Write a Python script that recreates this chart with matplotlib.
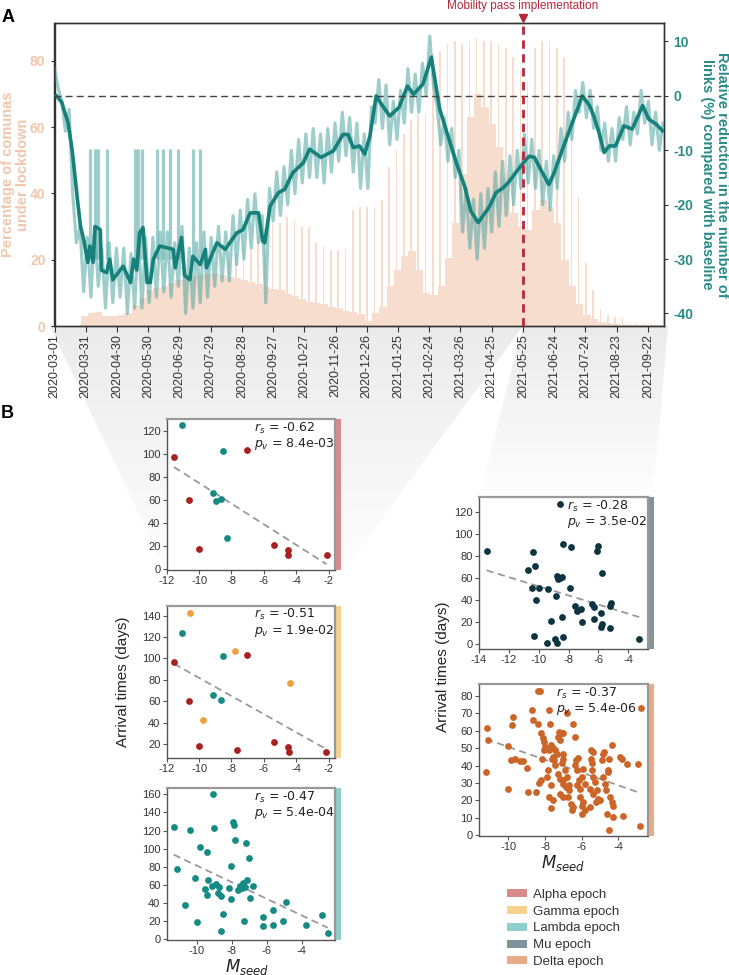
import numpy as np
import datetime as dt
import matplotlib
matplotlib.use("Agg")
import matplotlib.pyplot as plt
import matplotlib.dates as mdates
from matplotlib.patches import Rectangle, Polygon, Patch

plt.rcParams['font.family'] = ['Liberation Sans', 'DejaVu Sans']
plt.rcParams['axes.unicode_minus'] = False
plt.rcParams['mathtext.fontset'] = 'dejavusans'

# ------------------------------------------------------------------ data
start_date = '2020-03-01'
tick_labels = ['2020-03-01', '2020-03-31', '2020-04-30', '2020-05-30', '2020-06-29',
               '2020-07-29', '2020-08-28', '2020-09-27', '2020-10-27', '2020-11-26',
               '2020-12-26', '2021-01-25', '2021-02-24', '2021-03-26', '2021-04-25',
               '2021-05-25', '2021-06-24', '2021-07-24', '2021-08-23', '2021-09-22']
mobility_pass_date = '2021-05-25'
mobility_pass_label = 'Mobility pass implementation'

# lockdown percentage: weekday level (weekly bins, days since start) and weekend level
lock_week_day = [25 + 7 * k for k in range(80)]
lock_week_val = [3, 3.9, 4.2, 3, 2.9, 3.3, 4, 6.2, 8.4, 10.8,
                 11.6, 12.2, 13, 13.8, 14.6, 15, 15.4, 15.6, 15.9, 15.5,
                 14.9, 14.5, 14, 13.3, 12.7, 11.8, 11.2, 10.8, 9.6, 9,
                 8.2, 7.3, 6.9, 6.5, 5.7, 5.3, 4.6, 4.1, 3.5, 1.4,
                 4, 5.8, 12, 17, 21, 22.5, 17, 10, 9.4, 12,
                 20.5, 31, 46, 63, 70, 66, 61, 54, 45, 34,
                 30, 29, 35, 38, 36, 31, 20, 12, 6.5, 3.3,
                 2, 1.2, 0.8, 0.5, 0.3, 0.3, 0.3, 0.3, 0.3, 0.3]
lock_weekend_day = [167 + 7 * k for k in range(60)]
lock_weekend_val = [20, 22, 24, 23, 27, 28, 31, 31, 33, 32,
                    30, 30, 25, 24, 23, 23, 23, 35, 36, 36,
                    36, 38, 48, 53, 58, 62, 64, 64, 82, 83,
                    85, 86, 85, 86, 87, 86, 86, 85, 84, 81,
                    77, 74, 84, 86, 86, 84, 81, 62, 39, 19,
                    11, 5, 3.3, 2.8, 2.6, 0.9, 0.6, 0.5, 0.4, 0.3]

# mobility: raw daily series sampled twice a week (days since start) and 7-day smooth
raw_day = np.arange(0, 585, 3.5)
raw_val = [5, 1.5, -1, -6.5, -2.5, -18, -27, -24, -36, -26,
           -37, -24, -35, -28, -39, -27, -38, -28, -37, -28,
           -40, -29, -39, -25, -39, -26, -38, -26, -37, -25,
           -36, -25, -37, -27, -35, -24, -40, -28, -39, -27,
           -38, -25, -37, -26, -35, -24, -34, -25, -34, -22,
           -31, -21, -30, -19, -28, -18, -27, -22, -38, -17,
           -23, -14, -22, -13, -20, -10, -18, -8, -16, -7,
           -15, -6, -15, -7, -16, -6, -14, -5, -12, -3,
           -11, -4, -14, -5, -17, -7, -17, -2, -5, 3,
           -6, 2, -9, -1, -8, 1, -5, 5, -3, 4,
           -3, 6, 0, 11, 2, -2, -9, -4, -12, -6,
           -15, -10, -25, -17, -28, -19, -30, -18, -28, -17,
           -25, -14, -24, -12, -22, -11, -20, -10, -17, -7,
           -16, -8, -17, -10, -20, -12, -21, -11, -17, -6,
           -12, -3, -8, 1, -3, 2.5, -4, 1, -6, -2,
           -10, -5, -12, -6, -12, -4, -8, -2, -9, -3,
           -7, 1, -5, -1, -9, -3, -10, -5]
burst_day = [34, 39, 42, 50, 77, 80, 84, 98, 104, 111, 119, 133, 140]
burst_low = -30
burst_top = -9.8
smooth_day = [2, 7, 9, 13, 17, 22, 25, 28, 32, 34, 37, 39, 44, 45, 50, 53, 56, 60, 66, 73,
              76, 79, 82, 85, 89, 92, 95, 101, 114, 116, 122, 125, 130, 133, 140, 145, 146,
              156, 164, 175, 181, 188, 196, 200, 202, 207, 215, 221, 229, 239, 245, 256,
              268, 277, 282, 287, 293, 298, 303, 309, 315, 322, 331, 339, 345, 354, 362,
              370, 379, 386, 394, 400, 407, 418, 424, 431, 437, 443, 453, 456, 461, 467,
              474, 475, 480, 488, 494, 501, 507, 514, 518, 523, 528, 533, 539, 547, 555,
              565, 571, 578, 584]
smooth_val = [0, -1.2, -2.5, -4.9, -10, -19, -24, -26.4, -30.6, -27.6, -30.6, -24, -24.6,
              -32, -32.5, -30, -33.8, -32.8, -31.3, -34.3, -30, -32, -25.2, -24.2, -34.3,
              -34.3, -30, -27.6, -28.2, -31.6, -26, -33, -33.8, -29.5, -31, -28.2, -31.6,
              -27, -28.2, -25.2, -24.6, -21.5, -21.5, -26.7, -27, -20.3, -17.8, -17.2,
              -14.1, -12.3, -9.8, -11.3, -10.1, -7.1, -7.1, -9.5, -9.2, -10.7, -7.4, 0,
              -1.8, -3.7, -2.1, 1.8, 0.3, 2.2, 7.1, -2.4, -8, -12.3, -16.6, -21.2, -23.3,
              -20.3, -17.8, -16.9, -15.7, -14.1, -11.7, -11.1, -11.3, -13.5, -16, -16.3,
              -14.1, -9.8, -6.7, -3.1, 0, -1.8, -3.7, -6.7, -10.4, -9.2, -9.2, -5.5, -6.1,
              -1.8, -4.3, -5.2, -6.4]

# scatter panels (M_seed, arrival time in days)
alpha_red_x = [-11.55, -7.01, -10.65, -10.0, -5.37, -4.51, -4.48, -2.12]
alpha_red_y = [96.8, 103.4, 60.3, 17.5, 21.3, 16.6, 12.3, 12.3]
alpha_teal_x = [-11.04, -8.53, -9.14, -8.93, -8.67, -8.26]
alpha_teal_y = [124.4, 102.6, 66.1, 58.9, 60.9, 27.3]

gamma_red_x = [-7.02, -11.55, -10.65, -10.0, -7.63, -5.39, -4.53, -4.47, -2.14]
gamma_red_y = [103.5, 96.6, 60.2, 17.8, 14.7, 21.9, 16.9, 12.8, 12.8]
gamma_teal_x = [-11.04, -8.53, -9.15, -8.67]
gamma_teal_y = [124, 102.2, 65.8, 61.1]
gamma_orange_x = [-10.53, -7.76, -4.35, -9.78]
gamma_orange_y = [142.7, 107.2, 76.7, 42.4]

lambda_x = [-9.05, -11.30, -10.38, -9.01, -7.91, -7.87, -7.20, -7.81, -9.81, -9.39, -6.99,
            -11.14, -8.06, -10.06, -9.35, -9.53, -9.39, -9.14, -8.86, -8.71, -8.77, -8.63,
            -8.17, -8.06, -7.62, -7.53, -7.34, -7.11, -7.43, -7.24, -6.77, -6.95, -8.48,
            -10.65, -10.00, -8.63, -7.28, -6.19, -6.19, -5.66, -5.62, -5.05, -4.90, -3.77,
            -2.82, -2.51]
lambda_y = [160.2, 124.1, 121.1, 123.3, 129.6, 126.3, 106.4, 109.7, 102.3, 96.5, 89.5,
            77.7, 80.7, 67.7, 65.9, 55.2, 49.0, 58.9, 61.1, 57.5, 50.8, 47.8, 56.4, 44.2,
            54.5, 58.9, 61.9, 65.5, 56.4, 57.5, 58.9, 45.3, 27.6, 38.2, 19.4, 9.2, 20.2,
            24.3, 15.0, 32.0, 15.5, 20.2, 40.9, 15.5, 27.2, 6.6]

mu_x = [-8.55, -13.49, -10.37, -8.40, -7.84, -6.00, -6.11, -10.71, -10.22, -5.77, -8.77,
        -8.55, -8.73, -8.45, -10.44, -10.00, -9.35, -7.89, -10.18, -8.82, -7.56, -7.44,
        -7.17, -6.44, -6.33, -5.17, -5.22, -5.82, -6.33, -7.11, -8.44, -9.17, -5.77,
        -5.84, -5.22, -10.29, -8.40, -8.89, -8.77, -9.44, -3.27]
mu_y = [127.3, 84.8, 83.9, 90.9, 88.8, 89.4, 84.8, 67.9, 70.9, 64.8, 61.8, 60.3, 59.1,
        61.5, 50.9, 50.9, 50.0, 51.2, 40.0, 43.4, 34.5, 30.3, 31.5, 36.4, 33.4, 37.6,
        34.5, 28.5, 22.7, 20.3, 24.3, 21.2, 18.2, 15.2, 14.8, 7.3, 6.7, 4.3, 1.2, 1.2, 4.3]

delta_x = [-11.18, -11.09, -11.22, -10.0, -9.76, -9.78, -9.87, -9.64, -9.36, -9.18, -8.96,
           -10.0, -8.91, -8.69, -8.67, -8.36, -8.24, -8.49, -8.40, -8.27, -7.76, -7.73,
           -7.22, -7.09, -8.09, -8.05, -7.98, -8.05, -7.91, -7.76, -7.69, -7.58, -7.44,
           -7.36, -7.55, -7.51, -7.64, -7.44, -8.16, -8.24, -8.31, -7.82, -7.91, -7.69,
           -7.76, -7.58, -7.69, -7.27, -7.18, -7.04, -7.0, -7.0, -7.09, -7.27, -7.18,
           -7.0, -7.04, -6.89, -6.82, -6.85, -7.18, -7.0, -6.71, -6.67, -6.73, -6.6,
           -6.49, -6.55, -6.82, -6.49, -6.36, -6.31, -6.18, -6.36, -6.27, -6.13, -6.24,
           -6.09, -6.0, -5.91, -5.82, -6.09, -5.95, -6.0, -5.82, -6.0, -5.51, -5.51,
           -5.45, -5.36, -5.45, -5.36, -5.27, -5.55, -5.36, -5.18, -5.09, -5.22, -5.55,
           -5.0, -4.91, -4.85, -4.78, -4.85, -4.73, -4.67, -4.55, -4.49, -4.45, -4.36,
           -4.31, -3.91, -3.82, -4.55, -4.36, -4.64, -4.49, -4.27, -3.76, -2.78, -2.82,
           -3.51, -2.91]
delta_y = [61.9, 54.9, 36.0, 51.2, 68.1, 63.1, 43.1, 43.5, 42.7, 42.7, 38.8, 26.2, 25.0,
           71.9, 66.2, 64.2, 58.5, 25.0, 83.1, 83.1, 72.3, 64.2, 59.2, 58.5, 55.6, 53.7,
           50.8, 48.8, 50.4, 49.2, 51.7, 50.4, 48.8, 46.9, 45.0, 43.1, 44.0, 40.2, 44.0,
           31.5, 30.0, 37.3, 33.5, 28.7, 21.9, 20.0, 15.8, 56.5, 54.6, 58.5, 46.9, 44.0,
           41.2, 35.4, 32.5, 31.5, 29.6, 37.3, 33.5, 27.7, 23.8, 21.9, 28.7, 25.8, 21.9,
           18.1, 16.2, 14.2, 70.4, 64.2, 56.5, 43.1, 44.6, 40.2, 37.3, 31.5, 28.7, 26.7,
           33.5, 38.3, 29.6, 21.9, 19.0, 16.5, 14.2, 11.9, 48.8, 43.5, 41.2, 47.9, 37.3,
           33.5, 30.6, 26.7, 23.8, 25.8, 21.0, 19.0, 16.2, 20.0, 43.1, 46.9, 47.9, 33.5,
           29.6, 25.8, 37.3, 44.0, 21.9, 19.0, 16.5, 45.0, 44.0, 36.5, 51.7, 12.3, 2.7,
           10.4, 11.0, 72.9, 5.4, 40.8, 40.8]

stats = {'Alpha': ('-0.62', '8.4e-03'), 'Gamma': ('-0.51', '1.9e-02'),
         'Lambda': ('-0.47', '5.4e-04'), 'Mu': ('-0.28', '3.5e-02'),
         'Delta': ('-0.37', '5.4e-06')}
epoch_labels = ['Alpha epoch', 'Gamma epoch', 'Lambda epoch', 'Mu epoch', 'Delta epoch']
epoch_colors = ['#d98b8b', '#f5d28e', '#8dcfca', '#7f959c', '#e8ab87']

# ------------------------------------------------------------------ styles
BAR = '#f6ddcd'
PEACH = '#f0c6ad'
TEAL_DARK = '#16807b'
TEAL_RAW = '#4fa6a2'
TEAL_TXT = '#2a8c87'
RED_LINE = '#b5283b'
C_RED = '#a8201f'
C_TEAL = '#168a85'
C_ORANGE = '#f0a03c'
C_MU = '#0d3440'
C_DELTA = '#cb6528'

W, H = 729, 975
fig = plt.figure(figsize=(W / 100, H / 100), dpi=100)


def add_ax(l, t, r, b, **kw):
    return fig.add_axes([l / W, 1 - b / H, (r - l) / W, (b - t) / H], **kw)


# ------------------------------------------------------------------ background funnels
bg = fig.add_axes([0, 0, 1, 1], zorder=-10)
bg.axis('off')


def funnel(pts, y0, y1):
    rgba = np.zeros((256, 1, 4))
    rgba[..., :3] = 0.925
    rgba[..., 3] = np.linspace(1.0, 0.05, 256)[:, None]
    im = bg.imshow(rgba, extent=[0, W, y1, y0], aspect='auto', origin='upper',
                   interpolation='bilinear')
    poly = Polygon(pts, closed=True, transform=bg.transData, fc='none', ec='none')
    bg.add_patch(poly)
    im.set_clip_path(poly)


funnel([(50, 326), (523, 326), (343, 572), (166, 572)], 326, 572)
funnel([(523, 326), (668, 326), (653, 497), (479, 497)], 326, 497)
bg.set_xlim(0, W)
bg.set_ylim(H, 0)

# ------------------------------------------------------------------ panel A
t0 = mdates.date2num(dt.datetime.strptime(start_date, '%Y-%m-%d'))
axL = add_ax(54.5, 23, 664, 326)
axL.bar(t0 + np.array(lock_week_day), lock_week_val, width=7, align='edge',
        color=BAR, linewidth=0, zorder=1)
axL.bar(t0 + np.array(lock_weekend_day) + 0.5, lock_weekend_val, width=1.6,
        align='center', color=BAR, linewidth=0, zorder=1)
axL.set_xlim(t0, t0 + 585.5)
axL.set_ylim(0, 91.4)
tick_pos = [mdates.date2num(dt.datetime.strptime(s, '%Y-%m-%d')) for s in tick_labels]
axL.set_xticks(tick_pos)
axL.set_xticklabels(tick_labels, rotation=90, fontsize=9, color='#333333')
axL.set_yticks([0, 20, 40, 60, 80])
axL.tick_params(axis='y', labelcolor=PEACH, labelsize=10, length=3, color='#333333')
axL.tick_params(axis='x', length=4, color='#333333', pad=2)
for lab in axL.get_yticklabels():
    lab.set_fontweight('bold')
axL.set_ylabel('Percentage of comunas\nunder lockdown', color=PEACH,
               fontweight='bold', fontsize=10.5, linespacing=1.1)
axL.yaxis.set_label_coords(-0.040, 0.5)

axR = axL.twinx()
axR.plot(t0 + raw_day, raw_val, color=TEAL_RAW, alpha=0.55, lw=2.3, zorder=2)
axR.vlines(t0 + np.array(burst_day), burst_low, burst_top, color=TEAL_RAW, alpha=0.55,
           lw=2.3, zorder=2)
axR.plot(t0 + np.array(smooth_day), smooth_val, color=TEAL_DARK, lw=2.6, zorder=3)
axR.axhline(0, color='#444444', lw=1.0, ls=(0, (5, 3)), zorder=4)
axR.set_ylim(-42.3, 13.4)
axR.set_yticks([-40, -30, -20, -10, 0, 10])
axR.tick_params(axis='y', labelcolor=TEAL_TXT, labelsize=10, length=3, color='#333333')
for lab in axR.get_yticklabels():
    lab.set_fontweight('bold')
axR.set_ylabel('Relative reduction in the number of\nlinks (%) compared with baseline',
               color=TEAL_TXT, fontweight='bold', fontsize=10.5, rotation=270,
               va='center', linespacing=1.1)
axR.yaxis.set_label_coords(1.083, 0.5)

mp = mdates.date2num(dt.datetime.strptime(mobility_pass_date, '%Y-%m-%d'))
axR.plot([mp, mp], [-42.3, 14.3], color=RED_LINE, lw=2, ls=(0, (3, 2)),
         clip_on=False, zorder=5)
axR.plot([mp], [14.4], marker='v', color=RED_LINE, markersize=6, clip_on=False, zorder=6)
axR.annotate(mobility_pass_label, xy=(mp, 1.0), xycoords=('data', 'axes fraction'),
             xytext=(0, 17), textcoords='offset pixels', ha='center', va='center',
             color=RED_LINE, fontsize=8.5)

for ax in (axL, axR):
    for s in ax.spines.values():
        s.set_color('#333333')
        s.set_linewidth(1.0)

fig.text(8 / W, 1 - 17 / H, 'A', fontsize=13, fontweight='bold', ha='center', va='center')
fig.text(7 / W, 1 - 414 / H, 'B', fontsize=13, fontweight='bold', ha='center', va='center')


# ------------------------------------------------------------------ panel B
def scatter_panel(box, groups, xlim, ylim, xticks, yticks, strip, key, tx):
    ax = add_ax(*box)
    allx, ally = [], []
    for xs, ys, c in groups:
        ax.scatter(xs, ys, s=24, color=c, linewidths=0, zorder=3)
        allx += list(xs)
        ally += list(ys)
    k, b0 = np.polyfit(allx, ally, 1)
    xx = np.array([min(allx), max(allx)])
    ax.plot(xx, k * xx + b0, ls=(0, (4, 2.5)), color='#999999', lw=1.3, zorder=2)
    ax.set_xlim(*xlim)
    ax.set_ylim(*ylim)
    ax.set_xticks(xticks)
    ax.set_yticks(yticks)
    ax.tick_params(labelsize=8, length=3, width=0.8, color='#555555',
                   labelcolor='#333333', pad=1.5)
    for side in ('left', 'bottom'):
        ax.spines[side].set_color('#555555')
        ax.spines[side].set_linewidth(1.0)
    for side in ('top', 'right'):
        ax.spines[side].set_color('#999999')
        ax.spines[side].set_linewidth(1.6)
    w = box[2] - box[0]
    ax.add_patch(Rectangle((1.0, 0), 6 / w, 1, transform=ax.transAxes, clip_on=False,
                           color=strip, lw=0))
    rs, pv = stats[key]
    ax.text(tx, 0.94, r'$r_s$ = ' + rs, transform=ax.transAxes, ha='left', va='center',
            fontsize=9, family='DejaVu Sans', color='#222222')
    ax.text(tx, 0.835, r'$p_v$ = ' + pv, transform=ax.transAxes, ha='left', va='center',
            fontsize=9, family='DejaVu Sans', color='#222222')
    return ax


ax_a = scatter_panel((166.7, 419, 335, 570),
                     [(alpha_red_x, alpha_red_y, C_RED), (alpha_teal_x, alpha_teal_y, C_TEAL)],
                     (-12.0, -1.6), (-0.5, 130), [-12, -10, -8, -6, -4, -2],
                     [0, 20, 40, 60, 80, 100, 120], epoch_colors[0], 'Alpha', 0.52)
ax_g = scatter_panel((166.7, 605.7, 335, 758),
                     [(gamma_red_x, gamma_red_y, C_RED), (gamma_teal_x, gamma_teal_y, C_TEAL),
                      (gamma_orange_x, gamma_orange_y, C_ORANGE)],
                     (-12.0, -1.6), (6.9, 149.3), [-12, -10, -8, -6, -4, -2],
                     [20, 40, 60, 80, 100, 120, 140], epoch_colors[1], 'Gamma', 0.52)
ax_l = scatter_panel((166.7, 788, 335, 940), [(lambda_x, lambda_y, C_TEAL)],
                     (-11.7, -2.1), (-0.8, 167), [-10, -8, -6, -4],
                     [0, 20, 40, 60, 80, 100, 120, 140, 160], epoch_colors[2], 'Lambda', 0.52)
ax_m = scatter_panel((479, 497, 647.7, 649), [(mu_x, mu_y, C_MU)],
                     (-13.97, -2.7), (-4.5, 134), [-14, -12, -10, -8, -6, -4],
                     [0, 20, 40, 60, 80, 100, 120], epoch_colors[3], 'Mu', 0.52)
ax_d = scatter_panel((479, 684, 647.7, 836), [(delta_x, delta_y, C_DELTA)],
                     (-11.6, -2.4), (-0.6, 87), [-10, -8, -6, -4],
                     [0, 10, 20, 30, 40, 50, 60, 70, 80], epoch_colors[4], 'Delta', 0.455)

ax_g.text(-0.26, 0.5, 'Arrival times (days)', rotation=90, transform=ax_g.transAxes,
          ha='center', va='center', fontsize=11, color='#222222')
fig.text(443 / W, 1 - 666.5 / H, 'Arrival times (days)', rotation=90, ha='center',
         va='center', fontsize=11, color='#222222')
ax_l.text(0.475, -0.176, r'$M_{seed}$', transform=ax_l.transAxes, ha='center',
          va='center', fontsize=12, color='#222222')
ax_d.text(0.5, -0.178, r'$M_{seed}$', transform=ax_d.transAxes, ha='center',
          va='center', fontsize=12, color='#222222')

handles = [Patch(facecolor=c, edgecolor='none') for c in epoch_colors]
leg = fig.legend(handles, epoch_labels, loc='upper left',
                 bbox_to_anchor=(507 / W, 1 - 889 / H), frameon=False, fontsize=9.5,
                 handlelength=1.55, handleheight=0.55, handletextpad=0.45,
                 labelspacing=0.36, borderaxespad=0, borderpad=0)
for t in leg.get_texts():
    t.set_color('#333333')

fig.savefig('out.png', dpi=100)
